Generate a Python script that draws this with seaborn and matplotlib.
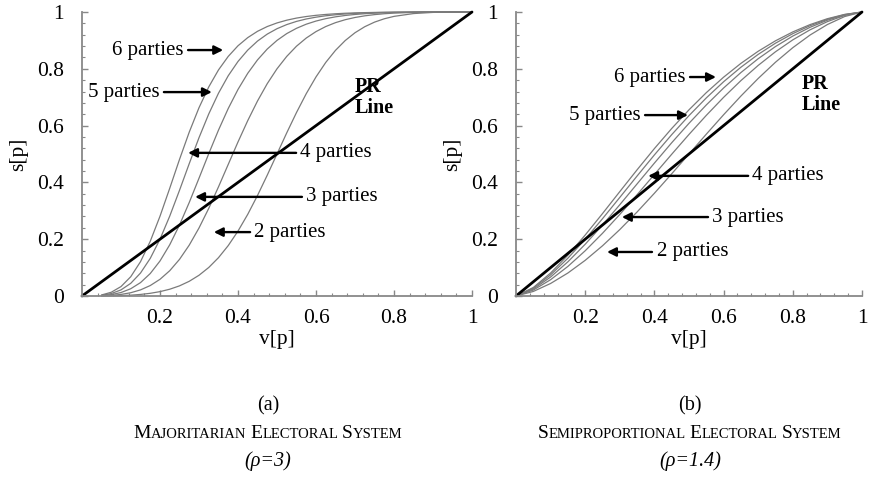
import matplotlib
matplotlib.use("Agg")
import matplotlib.pyplot as plt
import seaborn as sns
import pandas as pd
from matplotlib.ticker import MultipleLocator
from matplotlib.transforms import IdentityTransform

sns.set_theme(style="white")
SERIF = ["Liberation Serif", "DejaVu Serif"]
plt.rcParams['font.family'] = SERIF
plt.rcParams['text.color'] = 'black'
plt.rcParams['axes.labelcolor'] = 'black'
plt.rcParams['xtick.labelcolor'] = 'black'
plt.rcParams['ytick.labelcolor'] = 'black'

# ---- data ----
# (a) majoritarian, rho = 3
v_maj = [0.05, 0.075, 0.1, 0.125, 0.15, 0.175, 0.2, 0.225, 0.25, 0.275, 0.3, 0.325,
         0.35, 0.375, 0.4, 0.425, 0.45, 0.475, 0.5, 0.525, 0.55, 0.575, 0.6, 0.625,
         0.65, 0.675, 0.7, 0.725, 0.75, 0.775, 0.8, 0.85, 0.9, 0.95, 1.0]
maj_2 = [0.0002, 0.0005, 0.0014, 0.0029, 0.0055, 0.0095, 0.0154, 0.0239, 0.0357, 0.0518,
         0.0730, 0.1004, 0.1350, 0.1776, 0.2286, 0.2876, 0.3539, 0.4255, 0.5, 0.5745,
         0.6461, 0.7124, 0.7714, 0.8224, 0.8650, 0.8996, 0.9270, 0.9482, 0.9643, 0.9761,
         0.9846, 0.9945, 0.9986, 0.9999, 1.0]
maj_3 = [0.0006, 0.0021, 0.0055, 0.0115, 0.0215, 0.0368, 0.0588, 0.0891, 0.1290, 0.1792,
         0.2395, 0.3086, 0.3844, 0.4635, 0.5424, 0.6176, 0.6866, 0.7477, 0.8, 0.8437,
         0.8796, 0.9083, 0.9310, 0.9488, 0.9625, 0.9729, 0.9807, 0.9865, 0.9908, 0.9939,
         0.9961, 0.9986, 0.9997, 1.0, 1.0]
maj_4 = [0.0013, 0.0048, 0.0122, 0.0256, 0.0471, 0.0791, 0.1233, 0.1805, 0.25, 0.3294,
         0.4147, 0.5012, 0.5842, 0.6603, 0.7273, 0.7842, 0.8313, 0.8696, 0.9, 0.9240,
         0.9426, 0.9571, 0.9681, 0.9766, 0.9830, 0.9878, 0.9913, 0.9940, 0.9959, 0.9973,
         0.9983, 0.9994, 0.9999, 1.0, 1.0]
maj_5 = [0.0023, 0.0085, 0.0215, 0.0446, 0.0808, 0.1325, 0.2, 0.2814, 0.3721, 0.4662,
         0.5574, 0.6410, 0.7141, 0.7756, 0.8258, 0.8659, 0.8976, 0.9222, 0.9412, 0.9557,
         0.9669, 0.9754, 0.9818, 0.9867, 0.9903, 0.9931, 0.9951, 0.9966, 0.9977, 0.9985,
         0.9990, 0.9997, 0.9999, 1.0, 1.0]
maj_6 = [0.0036, 0.0132, 0.0332, 0.0679, 0.1208, 0.1926, 0.2809, 0.3795, 0.4808, 0.5771,
         0.6630, 0.7362, 0.7961, 0.8437, 0.8811, 0.9098, 0.9320, 0.9488, 0.9615, 0.9712,
         0.9786, 0.9841, 0.9883, 0.9914, 0.9938, 0.9956, 0.9969, 0.9978, 0.9985, 0.9990,
         0.9994, 0.9998, 1.0, 1.0, 1.0]

# (b) semiproportional, rho = 1.4
v_semi = [0.0, 0.05, 0.1, 0.15, 0.2, 0.25, 0.3, 0.35, 0.4, 0.45, 0.5,
          0.55, 0.6, 0.65, 0.7, 0.75, 0.8, 0.85, 0.9, 0.95, 1.0]
semi_2 = [0.0, 0.0160, 0.0441, 0.0810, 0.1256, 0.1768, 0.2339, 0.2959, 0.3618, 0.4303, 0.5,
          0.5698, 0.6382, 0.7040, 0.7660, 0.8232, 0.8744, 0.9190, 0.9559, 0.9841, 1.0]
semi_3 = [0.0, 0.0209, 0.0574, 0.1042, 0.1593, 0.2208, 0.2872, 0.3568, 0.4279, 0.4991, 0.5689,
          0.6360, 0.6995, 0.7584, 0.8120, 0.8600, 0.9019, 0.9374, 0.9662, 0.9879, 1.0]
semi_4 = [0.0, 0.0245, 0.0668, 0.1204, 0.1822, 0.25, 0.3215, 0.3948, 0.4680, 0.5396, 0.6081,
          0.6727, 0.7324, 0.7868, 0.8356, 0.8784, 0.9153, 0.9462, 0.9712, 0.9897, 1.0]
semi_5 = [0.0, 0.0275, 0.0744, 0.1331, 0.2000, 0.2722, 0.3471, 0.4226, 0.4968, 0.5681, 0.6352,
          0.6975, 0.7544, 0.8055, 0.8508, 0.8902, 0.9238, 0.9518, 0.9742, 0.9908, 1.0]
semi_6 = [0.0, 0.0299, 0.0808, 0.1437, 0.2147, 0.2902, 0.3676, 0.4444, 0.5191, 0.5898, 0.6556,
          0.7160, 0.7705, 0.8191, 0.8618, 0.8986, 0.9299, 0.9557, 0.9764, 0.9916, 1.0]

# PR line (seats = votes)
pr_v = [0.0, 1.0]
pr_s = [0.0, 1.0]

party_labels = ['2 parties', '3 parties', '4 parties', '5 parties', '6 parties']
x_ticks = [0.2, 0.4, 0.6, 0.8, 1.0]
x_ticklabels = ['0.2', '0.4', '0.6', '0.8', '1']
y_ticks = [0.0, 0.2, 0.4, 0.6, 0.8, 1.0]
y_ticklabels = ['0', '0.2', '0.4', '0.6', '0.8', '1']


def long_frame(v, series):
    rows = []
    for lab, s in zip(party_labels, series):
        for vi, si in zip(v, s):
            rows.append({'v': vi, 's': si, 'parties': lab})
    return pd.DataFrame(rows)


df_maj = long_frame(v_maj, [maj_2, maj_3, maj_4, maj_5, maj_6])
df_semi = long_frame(v_semi, [semi_2, semi_3, semi_4, semi_5, semi_6])
df_pr = pd.DataFrame({'v': pr_v, 's': pr_s})

gray_pal = {lab: '#7a7a7a' for lab in party_labels}

fig = plt.figure(figsize=(8.7, 4.9), dpi=100)
ax1 = fig.add_axes([82 / 870, 1 - 296 / 490, 390 / 870, 284 / 490])
ax2 = fig.add_axes([516 / 870, 1 - 296 / 490, 346 / 870, 284 / 490])

for ax, df in [(ax1, df_maj), (ax2, df_semi)]:
    sns.lineplot(data=df, x='v', y='s', hue='parties', palette=gray_pal, legend=False,
                 estimator=None, sort=False, linewidth=0.9, ax=ax)
    sns.lineplot(data=df_pr, x='v', y='s', color='black', linewidth=2.0, ax=ax)
    for ln in ax.lines:
        ln.set_clip_on(False)
    ax.set_xlim(0, 1)
    ax.set_ylim(0, 1)
    ax.set_xticks(x_ticks)
    ax.set_xticklabels(x_ticklabels)
    ax.set_yticks(y_ticks)
    ax.set_yticklabels(y_ticklabels)
    ax.xaxis.set_minor_locator(MultipleLocator(0.04))
    ax.yaxis.set_minor_locator(MultipleLocator(0.04))
    ax.tick_params(which='major', direction='in', length=4, width=1, color='#888888',
                   labelsize=15.5, labelcolor='black', bottom=True, left=True)
    ax.tick_params(axis='x', which='major', pad=9)
    ax.tick_params(axis='y', which='major', pad=13)
    ax.tick_params(which='minor', direction='in', length=2.5, width=0.8, color='#888888',
                   bottom=True, left=True)
    for sp in ['top', 'right']:
        ax.spines[sp].set_visible(False)
    for sp in ['left', 'bottom']:
        ax.spines[sp].set_color('#888888')
        ax.spines[sp].set_linewidth(1.3)
    ax.set_xlabel('v[p]', fontsize=15.5, labelpad=2, color='black')
    ax.set_ylabel('s[p]', fontsize=15.5, labelpad=6, color='black')
    ax.patch.set_alpha(0)

arrow_kw = dict(arrowstyle='-|>', color='black', lw=1.7, mutation_scale=13,
                shrinkA=0, shrinkB=0)
txt_kw = dict(fontsize=15, va='center', color='black')


def label_arrow(ax, text, text_xy, tail, tip, ha):
    ax.annotate('', xy=tip, xytext=tail, arrowprops=arrow_kw)
    ax.text(text_xy[0], text_xy[1], text, ha=ha, **txt_kw)


# panel (a)
label_arrow(ax1, '6 parties', (0.259, 0.866), (0.272, 0.866), (0.362, 0.866), 'right')
label_arrow(ax1, '5 parties', (0.200, 0.718), (0.210, 0.718), (0.333, 0.718), 'right')
label_arrow(ax1, '4 parties', (0.559, 0.504), (0.549, 0.504), (0.272, 0.504), 'left')
label_arrow(ax1, '3 parties', (0.574, 0.349), (0.564, 0.349), (0.290, 0.349), 'left')
label_arrow(ax1, '2 parties', (0.441, 0.225), (0.431, 0.225), (0.338, 0.225), 'left')
ax1.text(0.70, 0.70, 'PR\nLine', fontsize=14.5, fontweight='bold', ha='left', va='center',
         linespacing=1.05, color='black')

# panel (b)
label_arrow(ax2, '6 parties', (0.491, 0.771), (0.503, 0.771), (0.578, 0.771), 'right')
label_arrow(ax2, '5 parties', (0.361, 0.637), (0.373, 0.637), (0.497, 0.637), 'right')
label_arrow(ax2, '4 parties', (0.682, 0.423), (0.671, 0.423), (0.382, 0.423), 'left')
label_arrow(ax2, '3 parties', (0.566, 0.278), (0.555, 0.278), (0.306, 0.278), 'left')
label_arrow(ax2, '2 parties', (0.408, 0.155), (0.393, 0.155), (0.263, 0.155), 'left')
ax2.text(0.827, 0.71, 'PR\nLine', fontsize=14.5, fontweight='bold', ha='left', va='center',
         linespacing=1.05, color='black')

# captions
renderer = fig.canvas.get_renderer()


def small_caps(text, xc, y_top_px, big=14, small=10.5):
    y = 490 - y_top_px
    parts = []
    x = 0.0
    for word in text.split(' '):
        for piece, size in [(word[0], big), (word[1:].upper(), small)]:
            if not piece:
                continue
            t = fig.text(x, y, piece, fontsize=size, transform=IdentityTransform(),
                         ha='left', va='baseline', color='black')
            w = t.get_window_extent(renderer).width
            parts.append(t)
            x += w
        x += small * 0.35
    x -= small * 0.35
    shift = xc - x / 2
    for t in parts:
        px, py = t.get_position()
        t.set_position((px + shift, py))


for xc, letter, title, rho in [(268, '(a)', 'Majoritarian Electoral System', '(ρ=3)'),
                               (690, '(b)', 'Semiproportional Electoral System', '(ρ=1.4)')]:
    fig.text(xc / 870, 1 - 410 / 490, letter, fontsize=14.5, ha='center', va='baseline',
             color='black')
    small_caps(title, xc, 438)
    fig.text(xc / 870, 1 - 466 / 490, rho, fontsize=14.5, fontstyle='italic',
             ha='center', va='baseline', color='black')

fig.savefig('out.png', dpi=100)
